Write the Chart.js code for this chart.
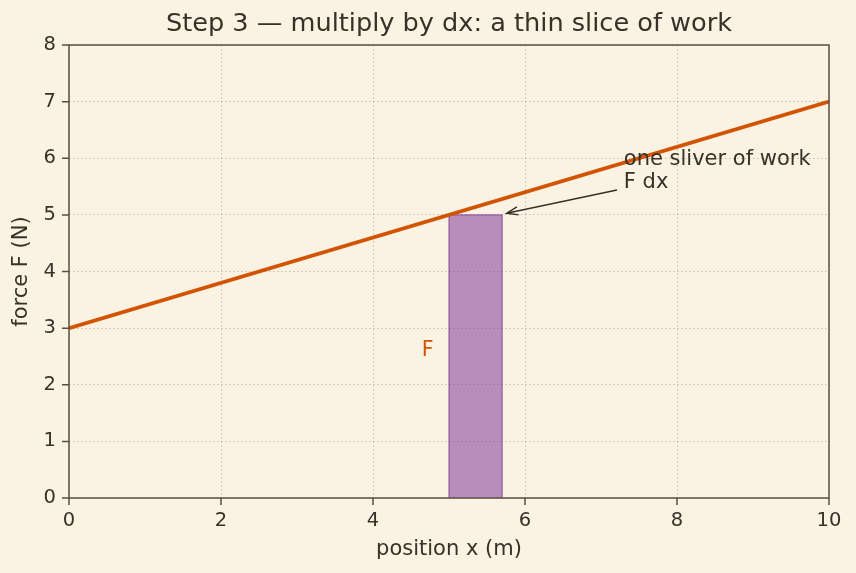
<!DOCTYPE html>
<html>
<head>
<meta charset="utf-8">
<script src="https://cdn.jsdelivr.net/npm/chart.js@4.4.1/dist/chart.umd.min.js"></script>
<style>
  html, body { margin: 0; padding: 0; background: #faf2e3; }
  canvas { display: block; }
</style>
</head>
<body>
<canvas id="chart" width="856" height="573"></canvas>
<script>
// data
const forceX = [0, 10];
const forceY = [3, 7];
const sliceX = [5, 5, 5.7, 5.7];
const sliceY = [0, 5, 5, 0];
const xTicks = [0, 2, 4, 6, 8, 10];
const yTicks = [0, 1, 2, 3, 4, 5, 6, 7, 8];
const noteLines = ['one sliver of work', 'F dx'];
const notePos = [7.3, 5.45];
const arrowTail = [7.21, 5.44];
const arrowHead = [5.76, 5.03];
const fLabelPos = [4.72, 2.6];

const BG = '#faf2e3';
const INK = '#3a3028';
const SPINE = '#5b4f42';
const FONT = '"DejaVu Sans", sans-serif';

const toPts = (xs, ys) => xs.map((x, i) => ({ x: x, y: ys[i] }));

// fondo, título, bordes, marcas y anotaciones
const decor = {
  id: 'decor',
  beforeDraw(chart) {
    const c = chart.ctx;
    c.save();
    c.fillStyle = BG;
    c.fillRect(0, 0, chart.width, chart.height);
    c.restore();
  },
  afterDraw(chart) {
    const c = chart.ctx;
    const a = chart.chartArea;
    const sx = chart.scales.x, sy = chart.scales.y;
    c.save();

    // title
    c.fillStyle = INK;
    c.font = '25.6px ' + FONT;
    c.textAlign = 'center';
    c.textBaseline = 'middle';
    c.fillText('Step 3 \u2014 multiply by dx: a thin slice of work', (a.left + a.right) / 2, 24);

    // spines
    c.strokeStyle = SPINE;
    c.lineWidth = 1.5;
    c.strokeRect(a.left, a.top, a.right - a.left, a.bottom - a.top);

    // tick marks
    c.beginPath();
    xTicks.forEach(v => {
      const px = sx.getPixelForValue(v);
      c.moveTo(px, a.bottom); c.lineTo(px, a.bottom + 7);
    });
    yTicks.forEach(v => {
      const py = sy.getPixelForValue(v);
      c.moveTo(a.left, py); c.lineTo(a.left - 7, py);
    });
    c.stroke();

    // annotation text
    c.fillStyle = INK;
    c.font = '21px ' + FONT;
    c.textAlign = 'left';
    c.textBaseline = 'alphabetic';
    const nx = sx.getPixelForValue(notePos[0]);
    const ny = sy.getPixelForValue(notePos[1]);
    const lh = 23;
    noteLines.forEach((t, i) => {
      c.fillText(t, nx, ny - 1.5 - lh * (noteLines.length - 1 - i));
    });

    // arrow
    const tx = sx.getPixelForValue(arrowTail[0]), ty = sy.getPixelForValue(arrowTail[1]);
    const hx = sx.getPixelForValue(arrowHead[0]), hy = sy.getPixelForValue(arrowHead[1]);
    c.strokeStyle = INK;
    c.lineWidth = 1.5;
    c.beginPath();
    c.moveTo(tx, ty); c.lineTo(hx, hy);
    const ang = Math.atan2(ty - hy, tx - hx);
    const hl = 12;
    c.moveTo(hx + hl * Math.cos(ang + 0.35), hy + hl * Math.sin(ang + 0.35));
    c.lineTo(hx, hy);
    c.lineTo(hx + hl * Math.cos(ang - 0.35), hy + hl * Math.sin(ang - 0.35));
    c.stroke();

    // F label
    c.fillStyle = '#d35400';
    c.font = '20.5px ' + FONT;
    c.textAlign = 'center';
    c.textBaseline = 'middle';
    c.fillText('F', sx.getPixelForValue(fLabelPos[0]), sy.getPixelForValue(fLabelPos[1]));

    c.restore();
  }
};

const gridStyle = {
  color: 'rgba(170,150,125,0.6)',
  lineWidth: 1,
  drawTicks: false
};
const dotted = { display: false, dash: [1.5, 2.5] };

new Chart(document.getElementById('chart'), {
  type: 'scatter',
  data: {
    datasets: [
      {
        label: 'force',
        data: toPts(forceX, forceY),
        showLine: true,
        borderColor: '#d35400',
        borderWidth: 3.8,
        pointRadius: 0,
        fill: false
      },
      {
        label: 'slice',
        data: toPts(sliceX, sliceY),
        showLine: true,
        borderColor: 'rgba(125,60,152,0.75)',
        borderWidth: 1.2,
        backgroundColor: 'rgba(125,60,152,0.55)',
        pointRadius: 0,
        fill: 'origin'
      }
    ]
  },
  options: {
    responsive: false,
    animation: false,
    events: [],
    layout: { padding: { left: 0, right: 27, top: 45, bottom: 0 } },
    plugins: {
      legend: { display: false },
      tooltip: { enabled: false }
    },
    scales: {
      x: {
        type: 'linear',
        min: 0, max: 10,
        afterFit: s => { s.height = 75; },
        afterBuildTicks: s => { s.ticks = xTicks.map(v => ({ value: v })); },
        grid: gridStyle,
        border: dotted,
        ticks: { color: INK, font: { family: FONT, size: 19.5 }, padding: 11, maxRotation: 0 },
        title: {
          display: true, text: 'position x (m)', color: INK,
          font: { family: FONT, size: 21 }, padding: { top: 0, bottom: 11 }
        }
      },
      y: {
        type: 'linear',
        min: 0, max: 8,
        afterFit: s => { s.width = 69; },
        afterBuildTicks: s => { s.ticks = yTicks.map(v => ({ value: v })); },
        grid: gridStyle,
        border: dotted,
        ticks: { color: INK, font: { family: FONT, size: 19.5 }, padding: 13 },
        title: {
          display: true, text: 'force F (N)', color: INK,
          font: { family: FONT, size: 21 }, padding: { top: 9, bottom: 0 }
        }
      }
    }
  },
  plugins: [decor]
});
</script>
</body>
</html>
